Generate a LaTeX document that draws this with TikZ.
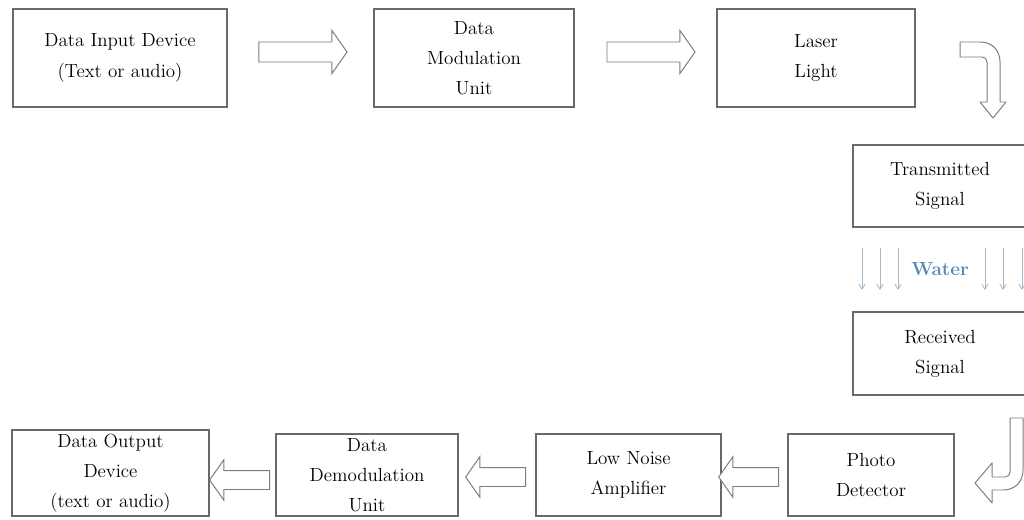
\documentclass[tikz,border=0pt]{standalone}
\usepackage{tikz}
\usetikzlibrary{arrows.meta,shapes.arrows}

\definecolor{boxgray}{RGB}{105,105,105}
\definecolor{arrowgray}{RGB}{125,125,125}
\definecolor{waterblue}{RGB}{88,138,184}
\definecolor{waterline}{RGB}{165,185,198}

\tikzset{
	blockbox/.style={draw=boxgray, line width=0.8pt, align=center, inner sep=2pt,
		font=\fontsize{13.5}{21.5}\selectfont},
	fatarrow/.style={single arrow, draw=arrowgray, line width=0.7pt, fill=white,
		inner sep=0pt, text depth=0pt, single arrow tip angle=110},
	toparrow/.style={fatarrow, text height=0.475cm, single arrow head extend=0.29cm, minimum height=2.2cm},
	backarrow/.style={fatarrow, shape border rotate=180, text height=0.45cm,
		single arrow head extend=0.27cm, minimum height=1.5cm},
	bendarrow/.style={draw=arrowgray, line width=0.7pt, fill=white, line join=round}
}

\begin{document}
\begin{tikzpicture}[x=0.025cm, y=-0.025cm]
	\useasboundingbox (0,0) rectangle (1024,519);
	% top row
	\node[blockbox, minimum width=5.35cm, minimum height=2.45cm] (input) at (120,58) {Data Input Device\\(Text or audio)};
	\node[blockbox, minimum width=5.0cm, minimum height=2.45cm] (modul) at (474,58) {Data\\Modulation\\Unit};
	\node[blockbox, minimum width=4.95cm, minimum height=2.45cm] (laser) at (816,58) {Laser\\Light};
	\node[toparrow] (a1) at (299.5,52) {};
	\node[toparrow] (a2) at (647.5,52) {};
	% right column
	\node[blockbox, minimum width=4.35cm, minimum height=2.05cm] (trans) at (940,186) {Transmitted\\Signal};
	\node[blockbox, minimum width=4.35cm, minimum height=2.075cm] (recv) at (940,353.5) {Received\\Signal};
	\node[text=waterblue, font=\fontsize{13.5}{16}\bfseries] (water) at (940,269) {Water};
	\foreach \wx in {862,880,898,985,1003,1022} {
		\draw[waterline, line width=0.6pt, -{Straight Barb[length=1.3mm, width=1.6mm]}] (\wx,248) -- (\wx,290);
	}
	% bent arrows
	\draw[bendarrow] (960,42) -- (980,42) .. controls (992,42) and (1000,50) .. (1000,62) -- (1000,102)
		-- (1006,102) -- (993,118) -- (980,102) -- (987,102) -- (987,62)
		.. controls (987,59) and (985,57) .. (982,57) -- (960,57) -- cycle;
	\draw[bendarrow] (1010,418) -- (1023,418) -- (1023,470) .. controls (1023,482) and (1015,490) .. (1003,490)
		-- (992,490) -- (992,503) -- (975,483) -- (992,463) -- (992,477) -- (1005,477)
		.. controls (1008,477) and (1010,475) .. (1010,472) -- cycle;
	% bottom row
	\node[blockbox, minimum width=4.15cm, minimum height=2.05cm] (photo) at (871,475) {Photo\\Detector};
	\node[blockbox, minimum width=4.625cm, minimum height=2.05cm] (lna) at (628.5,475) {Low Noise\\Amplifier};
	\node[blockbox, minimum width=4.55cm, minimum height=2.05cm] (demod) at (367,475) {Data\\Demodulation\\Unit};
	\node[blockbox, minimum width=4.925cm, minimum height=2.15cm] (output) at (110.5,473) {Data Output\\Device\\(text or audio)};
	\node[backarrow] (b1) at (752,477) {};
	\node[backarrow] (b2) at (499,477) {};
	\node[backarrow] (b3) at (243,480) {};
\end{tikzpicture}
\end{document}
